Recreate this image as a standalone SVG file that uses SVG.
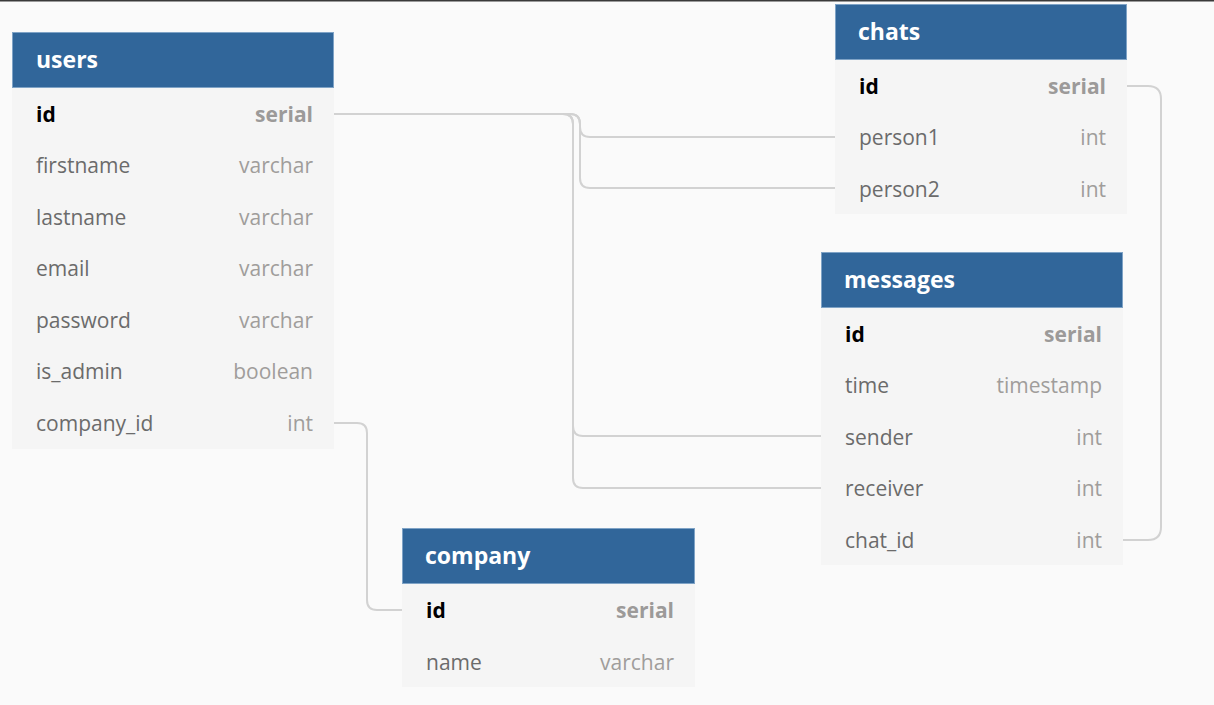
<svg xmlns="http://www.w3.org/2000/svg" width="1214" height="705" viewBox="0 0 1214 705">
<style>
.bg{fill:#fafafa}
.hd{fill:#31669a;stroke:#7fa3c6;stroke-width:1}
.bd{fill:#f5f5f5}
.tt{font-family:"Open Sans","Liberation Sans",sans-serif;font-size:23px;font-weight:700;fill:#ffffff}
.nm{font-family:"Open Sans","Liberation Sans",sans-serif;font-size:21px;fill:#6b6b6b}
.ty{font-family:"Open Sans","Liberation Sans",sans-serif;font-size:21px;fill:#a09d9b;text-anchor:end}
.pk{font-family:"Open Sans","Liberation Sans",sans-serif;font-size:21px;font-weight:700;fill:#000000}
.pt{font-family:"Open Sans","Liberation Sans",sans-serif;font-size:21px;font-weight:700;fill:#9c9a99;text-anchor:end}
.cn{fill:none;stroke:#d2d2d2;stroke-width:2}
</style>
<rect class="bg" x="0" y="0" width="1214" height="705"/>
<rect x="0" y="0" width="1214" height="1.5" fill="#3a3a3a"/>
<g id="connectors">
<path class="cn" d="M334,114 H570 Q580,114 580,124 V127 Q580,137 590,137 H835"/>
<path class="cn" d="M334,114 H570 Q580,114 580,124 V178 Q580,188 590,188 H835"/>
<path class="cn" d="M334,114 H563 Q573,114 573,124 V426 Q573,436 583,436 H821"/>
<path class="cn" d="M334,114 H563 Q573,114 573,124 V478 Q573,488 583,488 H821"/>
<path class="cn" d="M334,423 H357 Q367,423 367,433 V600 Q367,610 377,610 H402"/>
<path class="cn" d="M1127,86 H1148 Q1161,86 1161,99 V527 Q1161,540 1148,540 H1123"/>
</g>
<g id="users">
<rect class="bd" x="12" y="88" width="322" height="361"/>
<rect class="hd" x="12.5" y="32.5" width="321" height="55"/>
<text class="tt" x="36" y="68">users</text>
<text class="pk" x="36" y="122">id</text><text class="pt" x="313" y="122">serial</text>
<text class="nm" x="36" y="173">firstname</text><text class="ty" x="313" y="173">varchar</text>
<text class="nm" x="36" y="225">lastname</text><text class="ty" x="313" y="225">varchar</text>
<text class="nm" x="36" y="276">email</text><text class="ty" x="313" y="276">varchar</text>
<text class="nm" x="36" y="328">password</text><text class="ty" x="313" y="328">varchar</text>
<text class="nm" x="36" y="379">is_admin</text><text class="ty" x="313" y="379">boolean</text>
<text class="nm" x="36" y="431">company_id</text><text class="ty" x="313" y="431">int</text>
</g>
<g id="chats">
<rect class="bd" x="835" y="60" width="292" height="154"/>
<rect class="hd" x="835.5" y="4.5" width="291" height="55"/>
<text class="tt" x="858" y="40">chats</text>
<text class="pk" x="859" y="94">id</text><text class="pt" x="1106" y="94">serial</text>
<text class="nm" x="859" y="145">person1</text><text class="ty" x="1106" y="145">int</text>
<text class="nm" x="859" y="197">person2</text><text class="ty" x="1106" y="197">int</text>
</g>
<g id="messages">
<rect class="bd" x="821" y="308" width="302" height="257"/>
<rect class="hd" x="821.5" y="252.5" width="301" height="55"/>
<text class="tt" x="844" y="288">messages</text>
<text class="pk" x="845" y="342">id</text><text class="pt" x="1102" y="342">serial</text>
<text class="nm" x="845" y="393">time</text><text class="ty" x="1102" y="393">timestamp</text>
<text class="nm" x="845" y="445">sender</text><text class="ty" x="1102" y="445">int</text>
<text class="nm" x="845" y="496">receiver</text><text class="ty" x="1102" y="496">int</text>
<text class="nm" x="845" y="548">chat_id</text><text class="ty" x="1102" y="548">int</text>
</g>
<g id="company">
<rect class="bd" x="402" y="584" width="293" height="103"/>
<rect class="hd" x="402.5" y="528.5" width="292" height="55"/>
<text class="tt" x="425" y="564">company</text>
<text class="pk" x="426" y="618">id</text><text class="pt" x="674" y="618">serial</text>
<text class="nm" x="426" y="670">name</text><text class="ty" x="674" y="670">varchar</text>
</g>
</svg>
